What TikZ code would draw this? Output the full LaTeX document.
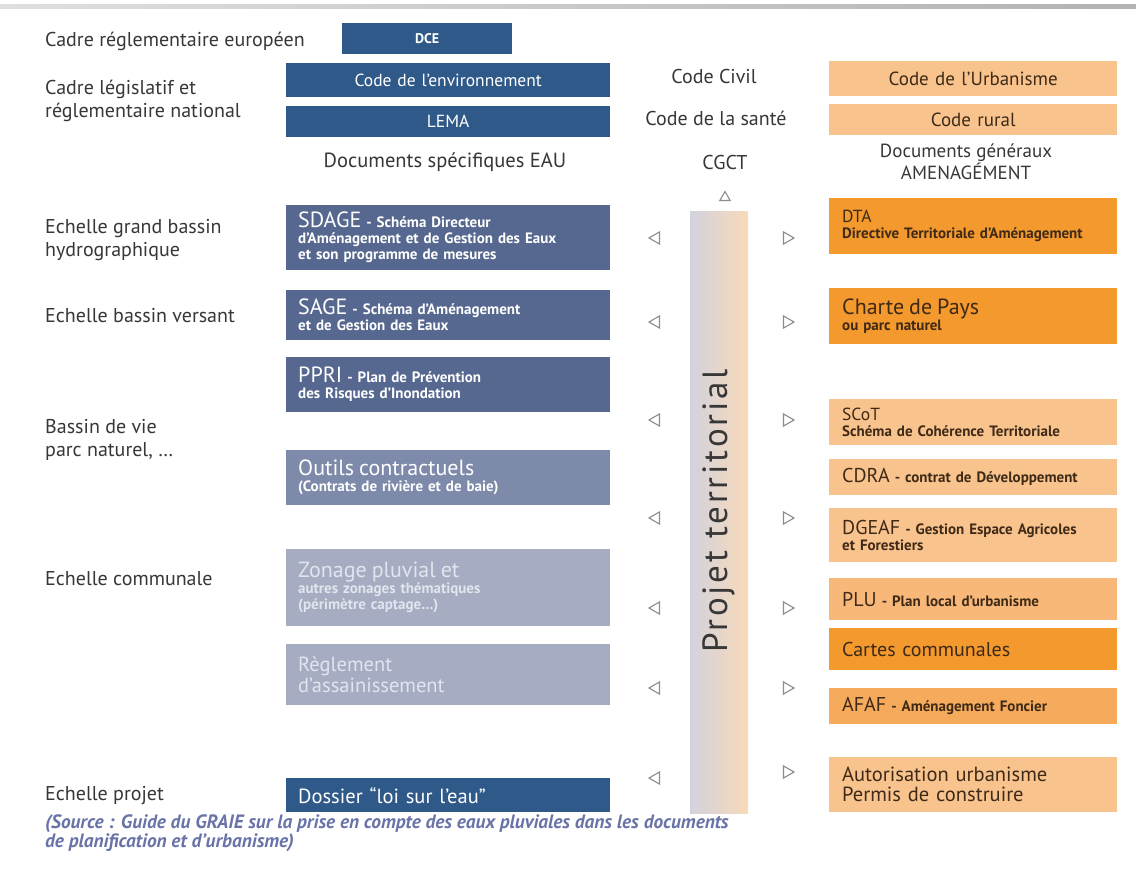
\documentclass[tikz,border=0pt]{standalone}
\usepackage{fontspec}
\setmainfont{PT Sans}
\usepackage{tikz}
\usetikzlibrary{positioning,shapes.geometric}
\definecolor{dkblue}{RGB}{47,89,137}
\definecolor{slate}{RGB}{86,104,143}
\definecolor{slatemid}{RGB}{125,138,170}
\definecolor{slatelt}{RGB}{166,173,194}
\definecolor{paletxt}{RGB}{226,229,237}
\definecolor{orgdeep}{RGB}{243,153,45}
\definecolor{orgmid}{RGB}{246,170,92}
\definecolor{orgplu}{RGB}{248,184,122}
\definecolor{peach}{RGB}{249,195,142}
\definecolor{orgtxt}{RGB}{62,42,22}
\definecolor{txtgray}{RGB}{55,55,55}
\definecolor{srcblue}{RGB}{105,115,168}
\definecolor{barleft}{RGB}{210,210,222}
\definecolor{barright}{RGB}{248,218,184}
\definecolor{trigray}{RGB}{140,140,140}
\newcommand{\tsm}{\fontsize{15}{16}\selectfont\bfseries}
\newcommand{\tmd}{\fontsize{17.5}{19}\selectfont\mdseries}
\newcommand{\tlb}{\fontsize{20}{22}\selectfont\mdseries}
\newcommand{\ttl}{\fontsize{22}{22}\selectfont\mdseries}
\tikzset{
  rowlbl/.style={anchor=west,align=left,inner sep=0pt,font=\fontsize{20}{23}\selectfont,text=txtgray},
  hdr/.style={align=center,inner sep=0pt,font=\fontsize{20}{21}\selectfont,text=txtgray},
  eaulaw/.style={anchor=north west,inner xsep=12pt,inner ysep=0pt,text width=300pt,
    minimum height=#1,align=center,font=\fontsize{17.5}{19}\selectfont,text=white},
  eaudoc/.style={anchor=north west,inner xsep=12pt,inner ysep=0pt,text width=300pt,
    minimum height=#1,align=left,font=\tsm,text=white},
  amenlaw/.style={anchor=north west,inner xsep=13pt,inner ysep=0pt,text width=262pt,
    minimum height=#1,align=center,font=\fontsize{19}{20}\selectfont,text=orgtxt,fill=peach},
  amendoc/.style={anchor=north west,inner xsep=13pt,inner ysep=0pt,text width=262pt,
    minimum height=#1,align=left,font=\tsm,text=orgtxt},
  triL/.style={regular polygon,regular polygon sides=3,shape border rotate=90,
    draw=trigray,line width=1.1pt,fill=white,minimum size=14pt,inner sep=0pt},
  triR/.style={triL,shape border rotate=-90},
  triU/.style={triL,shape border rotate=0}
}
\begin{document}
\begin{tikzpicture}[x=1pt,y=-1pt]
  \useasboundingbox[fill=white] (0,0) rectangle (1136,874);
  \shade[left color=gray!25,right color=gray!60] (0,5) rectangle (1136,9);

  % niveaux
  \node[rowlbl] (l-eu) at (45,41) {Cadre réglementaire européen};
  \node[rowlbl] (l-nat) at (45,101) {Cadre législatif et\\réglementaire national};
  \node[rowlbl] (l-gb) at (45,240) {Echelle grand bassin\\hydrographique};
  \node[rowlbl] (l-bv) at (45,316) {Echelle bassin versant};
  \node[rowlbl] (l-vie) at (45,440) {Bassin de vie\\parc naturel, …};
  \node[rowlbl] (l-com) at (45,579) {Echelle communale};
  \node[rowlbl] (l-proj) at (45,796) {Echelle projet};

  % documents EAU
  \node[eaulaw=31,fill=dkblue,text width=146pt,font=\fontsize{14}{15}\selectfont\bfseries] (dce) at (342,23) {DCE};
  \node[eaulaw=34,fill=dkblue] (cenv) at (286,63) {Code de l'environnement};
  \node[eaulaw=31,fill=dkblue] (lema) at (286,106) {LEMA};
  \node[hdr,font=\fontsize{20.5}{22}\selectfont] (h-eau) at (445,162) {Documents spécifiques EAU};

  \node[eaudoc=65,fill=slate] (sdage) at (286,205)
    {{\ttl SDAGE} - Schéma Directeur\\d'Aménagement et de Gestion des Eaux\\et son programme de mesures};
  \node[eaudoc=50,fill=slate] (sage) at (286,290)
    {{\ttl SAGE} - Schéma d'Aménagement\\et de Gestion des Eaux};
  \node[eaudoc=55,fill=slate] (ppri) at (286,357)
    {{\ttl PPRI} - Plan de Prévention\\des Risques d'Inondation\\[8pt]};
  \node[eaudoc=55,fill=slatemid] (outils) at (286,450)
    {{\ttl Outils contractuels}\\(Contrats de rivière et de baie)};
  \node[eaudoc=77,fill=slatelt,text=paletxt] (zonage) at (286,549)
    {{\ttl Zonage pluvial et}\\autres zonages thématiques\\(périmètre captage…)};
  \node[eaudoc=61,fill=slatelt,text=paletxt,font=\fontsize{20.5}{21}\selectfont] (regl) at (286,644)
    {Règlement\\d'assainissement};
  \node[eaudoc=34,fill=dkblue,font=\fontsize{20.5}{21}\selectfont] (dle) at (286,778)
    {Dossier “loi sur l'eau”};

  % colonne centrale
  \node[hdr] (h-civ) at (714,77) {Code Civil};
  \node[hdr] (h-sante) at (716,118) {Code de la santé};
  \node[hdr] (h-cgct) at (725,163) {CGCT};
  \node[triU,minimum size=12pt,below=20pt of h-cgct] (tu) {};
  \node[minimum width=58pt,minimum height=601pt,inner sep=0pt,
    left color=barleft,right color=barright] (bar) at (719,512.5) {};
  \node[rotate=90,font=\fontsize{35}{36}\selectfont\addfontfeature{LetterSpace=8},text=txtgray]
    (projet) at (719,511) {Projet territorial};

  \node[triL] (tl1) at (656,238) {};
  \node[triL] (tl2) at (656,322) {};
  \node[triL] (tl3) at (656,420) {};
  \node[triL] (tl4) at (656,518) {};
  \node[triL] (tl5) at (656,608) {};
  \node[triL] (tl6) at (656,688) {};
  \node[triL] (tl7) at (656,778) {};
  \node[triR] (tr1) at (787,238) {};
  \node[triR] (tr2) at (787,322) {};
  \node[triR] (tr3) at (787,420) {};
  \node[triR] (tr4) at (787,518) {};
  \node[triR] (tr5) at (787,608) {};
  \node[triR] (tr6) at (787,688) {};
  \node[triR] (tr7) at (787,772) {};

  % documents AMENAGEMENT
  \node[amenlaw=35] (curb) at (829,61) {Code de l'Urbanisme};
  \node[amenlaw=31] (crur) at (829,104) {Code rural};
  \node[hdr,font=\fontsize{19}{20}\selectfont] (h-amen) at (966,162) {Documents généraux\\AMENAGÉMENT};

  \node[amendoc=56,fill=orgdeep] (dta) at (829,198)
    {{\tmd DTA}\\Directive Territoriale d'Aménagement\\[6pt]};
  \node[amendoc=56,fill=orgdeep] (charte) at (829,288)
    {{\ttl Charte de Pays}\\ou parc naturel\\[6pt]};
  \node[amendoc=46,fill=peach] (scot) at (829,399)
    {{\tmd SCoT}\\Schéma de Cohérence Territoriale};
  \node[amendoc=36,fill=peach] (cdra) at (829,459)
    {{\tlb CDRA} - contrat de Développement};
  \node[amendoc=54,fill=peach] (dgeaf) at (829,508)
    {{\tlb DGEAF} - Gestion Espace Agricoles\\et Forestiers};
  \node[amendoc=42,fill=orgplu] (plu) at (829,578)
    {{\tlb PLU} - Plan local d'urbanisme};
  \node[amendoc=42,fill=orgdeep,font=\fontsize{20}{21}\selectfont] (cartes) at (829,628) {Cartes communales};
  \node[amendoc=36,fill=orgmid] (afaf) at (829,688)
    {{\tlb AFAF} - Aménagement Foncier};
  \node[amendoc=55,fill=peach,font=\fontsize{20.5}{20}\selectfont] (autor) at (829,757)
    {Autorisation urbanisme\\Permis de construire};

  % source
  \node[anchor=north west,align=left,inner sep=0pt,text=srcblue,
    font=\fontsize{19.3}{16.5}\selectfont\bfseries\itshape] (src) at (45,815)
    {(Source : Guide du GRAIE sur la prise en compte des eaux pluviales dans les documents\\de planification et d'urbanisme)};
\end{tikzpicture}
\end{document}
